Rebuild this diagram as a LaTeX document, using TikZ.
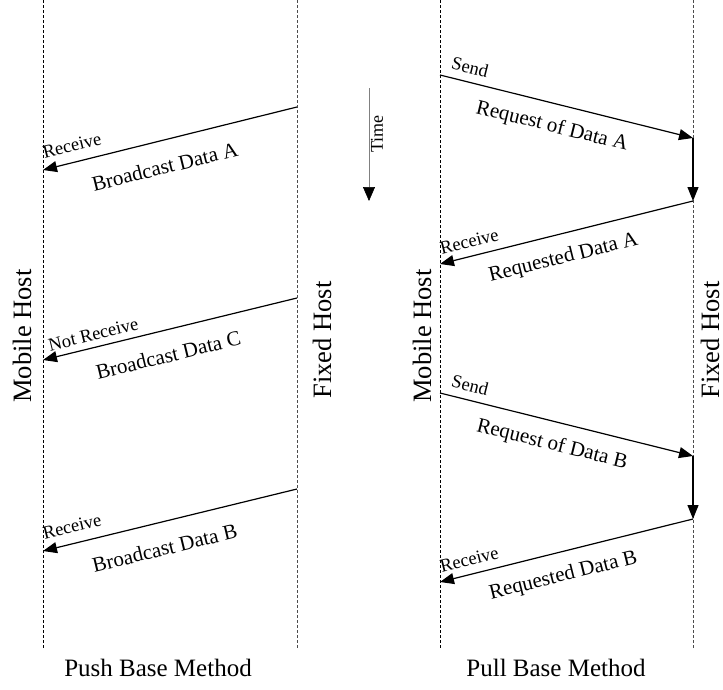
\documentclass[tikz,border=0pt]{standalone}
\usepackage{fontspec}
\setmainfont{Liberation Serif}
\usetikzlibrary{arrows.meta}
\begin{document}
\begin{tikzpicture}[x=1pt,y=-1pt,
  lifeline/.style={line width=0.7pt, dash pattern=on 2.5pt off 2.5pt},
  msg/.style={line width=1.2pt, -{Triangle[length=14pt,width=11pt]}},
  small/.style={font=\fontsize{18.5}{18.5}\selectfont, inner sep=0pt},
  big/.style={font=\fontsize{21}{21}\selectfont, inner sep=0pt},
  host/.style={font=\fontsize{26.5}{26.5}\selectfont, inner sep=0pt, rotate=90},
  caption/.style={font=\fontsize{25}{25}\selectfont, inner sep=0pt}]
\useasboundingbox (0,0) rectangle (723,689);

% lifelines
\coordinate (pmT) at (43,0);   \coordinate (pmB) at (43,648);
\coordinate (pfT) at (297,0);  \coordinate (pfB) at (297,648);
\coordinate (qmT) at (440,0);  \coordinate (qmB) at (440,648);
\coordinate (qfT) at (693,0);  \coordinate (qfB) at (693,648);
\draw[lifeline] (pmT) -- (pmB);
\draw[lifeline, black!70] (pfT) -- (pfB);
\draw[lifeline] (qmT) -- (qmB);
\draw[lifeline, black!70] (qfT) -- (qfB);

% host labels
\node[host] (pm) at (22,336) {Mobile Host};
\node[host] (pf) at (322,340) {Fixed Host};
\node[host] (qm) at (422,336) {Mobile Host};
\node[host] (qf) at (710,340) {Fixed Host};

% push messages
\coordinate (fa) at (297,107); \coordinate (ma) at (43,170);
\coordinate (fc) at (297,298); \coordinate (mc) at (43,360);
\coordinate (fb) at (297,489); \coordinate (mb) at (43,551);
\draw[msg] (fa) -- node[small, pos=0.87, above=10pt, sloped] (ra1) {Receive}
  node[big, pos=0.545, below=18pt, sloped] (ba) {Broadcast Data A} (ma);
\draw[msg] (fc) -- node[small, pos=0.79, above=6pt, sloped] (ra2) {Not Receive}
  node[big, pos=0.53, below=17pt, sloped] (bc) {Broadcast Data C} (mc);
\draw[msg] (fb) -- node[small, pos=0.87, above=10pt, sloped] (ra3) {Receive}
  node[big, pos=0.545, below=18pt, sloped] (bb) {Broadcast Data B} (mb);

% time axis
\coordinate (t0) at (369,88); \coordinate (t1) at (369,201);
\draw[gray, line width=0.6pt, -{Triangle[length=14pt,width=12pt,color=black]}] (t0) -- (t1);
\node[font=\fontsize{18}{18}\selectfont, inner sep=0pt, rotate=90] (time) at (377,134) {Time};

% pull messages
\coordinate (sa) at (440,75);  \coordinate (xa) at (693,138);
\coordinate (ya) at (693,201); \coordinate (za) at (440,264);
\coordinate (sb) at (440,393); \coordinate (xb) at (693,456);
\coordinate (yb) at (693,519); \coordinate (zb) at (440,582);
\draw[msg] (sa) -- node[small, pos=0.105, above=8pt, sloped] (s1) {Send}
  node[big, pos=0.465, below=13pt, sloped] (q1) {Request of Data A} (xa);
\draw[msg] (xa) -- (ya);
\draw[msg] (ya) -- node[small, pos=0.87, above=8pt, sloped] (r1) {Receive}
  node[big, pos=0.535, below=14pt, sloped] (d1) {Requested Data A} (za);
\draw[msg] (sb) -- node[small, pos=0.105, above=8pt, sloped] (s2) {Send}
  node[big, pos=0.465, below=13pt, sloped] (q2) {Request of Data B} (xb);
\draw[msg] (xb) -- (yb);
\draw[msg] (yb) -- node[small, pos=0.87, above=8pt, sloped] (r2) {Receive}
  node[big, pos=0.535, below=14pt, sloped] (d2) {Requested Data B} (zb);

% captions
\node[caption] (push) at (158,668) {Push Base Method};
\node[caption] (pull) at (556,668) {Pull Base Method};
\end{tikzpicture}
\end{document}
